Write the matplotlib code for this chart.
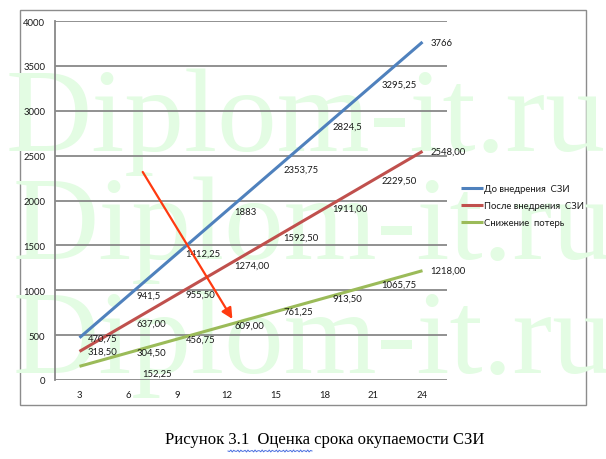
import numpy as np
import matplotlib
matplotlib.use("Agg")
import matplotlib.pyplot as plt
from matplotlib.patches import Rectangle
from matplotlib.lines import Line2D

# ---- data ----
months = ["3", "6", "9", "12", "15", "18", "21", "24"]
before = [470.75, 941.5, 1412.25, 1883, 2353.75, 2824.5, 3295.25, 3766]
after = [318.50, 637.00, 955.50, 1274.00, 1592.50, 1911.00, 2229.50, 2548.00]
reduction = [152.25, 304.50, 456.75, 609.00, 761.25, 913.50, 1065.75, 1218.00]
before_labels = ["470,75", "941,5", "1412,25", "1883", "2353,75", "2824,5", "3295,25", "3766"]
after_labels = ["318,50", "637,00", "955,50", "1274,00", "1592,50", "1911,00", "2229,50", "2548,00"]
reduction_labels = ["152,25", "304,50", "456,75", "609,00", "761,25", "913,50", "1065,75", "1218,00"]
series_names = ["До внедрения  СЗИ", "После внедрения  СЗИ", "Снижение  потерь"]
colors = ["#4F81BD", "#C0504D", "#9BBB59"]
yticks = [0, 500, 1000, 1500, 2000, 2500, 3000, 3500, 4000]
caption = "Рисунок 3.1  Оценка срока окупаемости СЗИ"
watermark = "Diplom-it.ru"

W, H = 606, 460
fig = plt.figure(figsize=(W / 100, H / 100), dpi=100)
fig.patch.set_facecolor("white")

def fx(px):
    return px / W

def fy(py):
    return 1 - py / H

# outer chart frame
fig.patches.append(Rectangle((fx(20), fy(406)), fx(586) - fx(20), fy(11) - fy(406),
                             transform=fig.transFigure, fill=False,
                             edgecolor="#8C8C8C", lw=1.0, zorder=-3))

# watermark
for top, left in [(68, 6), (176, 13), (291, 13)]:
    fig.text(fx(left), fy(top), watermark, family="Liberation Serif", fontsize=86,
             color="#E3FCE3", ha="left", va="top", zorder=-2)

ax = fig.add_axes([fx(55), fy(381), fx(447) - fx(55), fy(22) - fy(381)])
ax.set_facecolor("none")
ax.set_zorder(1)

x = np.arange(len(months))
series = [before, after, reduction]
labels = [before_labels, after_labels, reduction_labels]
lines = []
for vals, col, name in zip(series, colors, series_names):
    ln, = ax.plot(x, vals, color=col, lw=2.2, solid_capstyle="butt", label=name, zorder=3)
    lines.append(ln)

font = "Lato"
lblsize = 6.8
for si, (vals, labs) in enumerate(zip(series, labels)):
    for i, (v, lab) in enumerate(zip(vals, labs)):
        off = (8, 0)
        if si == 2 and i == 0:
            off = (63, -7)
        ax.annotate(lab, (x[i], v), xytext=off, textcoords="offset pixels",
                    ha="left", va="center", fontsize=lblsize, family=font,
                    color="#1a1a1a", zorder=4)

ax.set_xlim(-0.5, len(months) - 0.5)
ax.set_ylim(0, 4000)
ax.set_xticks(x)
ax.set_xticklabels(months)
ax.set_yticks(yticks)
ax.set_yticklabels([str(t) for t in yticks])
ax.tick_params(axis="both", length=0, labelsize=lblsize, colors="#1a1a1a")
ax.tick_params(axis="y", pad=7)
ax.tick_params(axis="x", pad=7)
for lab in ax.get_xticklabels() + ax.get_yticklabels():
    lab.set_family(font)
ax.grid(axis="y", color="#888888", lw=1.3, zorder=1)
ax.set_axisbelow(True)
for s in ["top", "right", "bottom"]:
    ax.spines[s].set_visible(False)
ax.spines["left"].set_color("#888888")
ax.spines["left"].set_linewidth(1.3)

# arrow annotation
arrow_start = (1.29, 2318)
arrow_end = (3.12, 680)
ax.annotate("", xy=arrow_end, xytext=arrow_start,
            arrowprops=dict(arrowstyle="-|>", color="#FF3A10", lw=1.6,
                            mutation_scale=16, shrinkA=0, shrinkB=0), zorder=5)

leg = fig.legend(handles=lines, labels=series_names, loc="upper left",
                 bbox_to_anchor=(fx(461), fy(185)), bbox_transform=fig.transFigure,
                 frameon=False, prop={"family": font, "size": lblsize},
                 handlelength=2.3, handletextpad=0.1, labelspacing=0.85,
                 borderpad=0, borderaxespad=0)
for t in leg.get_texts():
    t.set_color("#1a1a1a")

fig.text(fx(325), fy(440), caption, family="Liberation Serif", fontsize=12,
         ha="center", va="center", color="black")

# spell-check wavy underline
xs = np.linspace(228, 312, 60)
ys = 452 + 1.0 * np.sin((xs - 228) * 2 * np.pi / 3.5)
fig.add_artist(Line2D(fx(xs), fy(ys), transform=fig.transFigure, color="#4A6FE0", lw=0.7))

fig.savefig("out.png", dpi=100)
